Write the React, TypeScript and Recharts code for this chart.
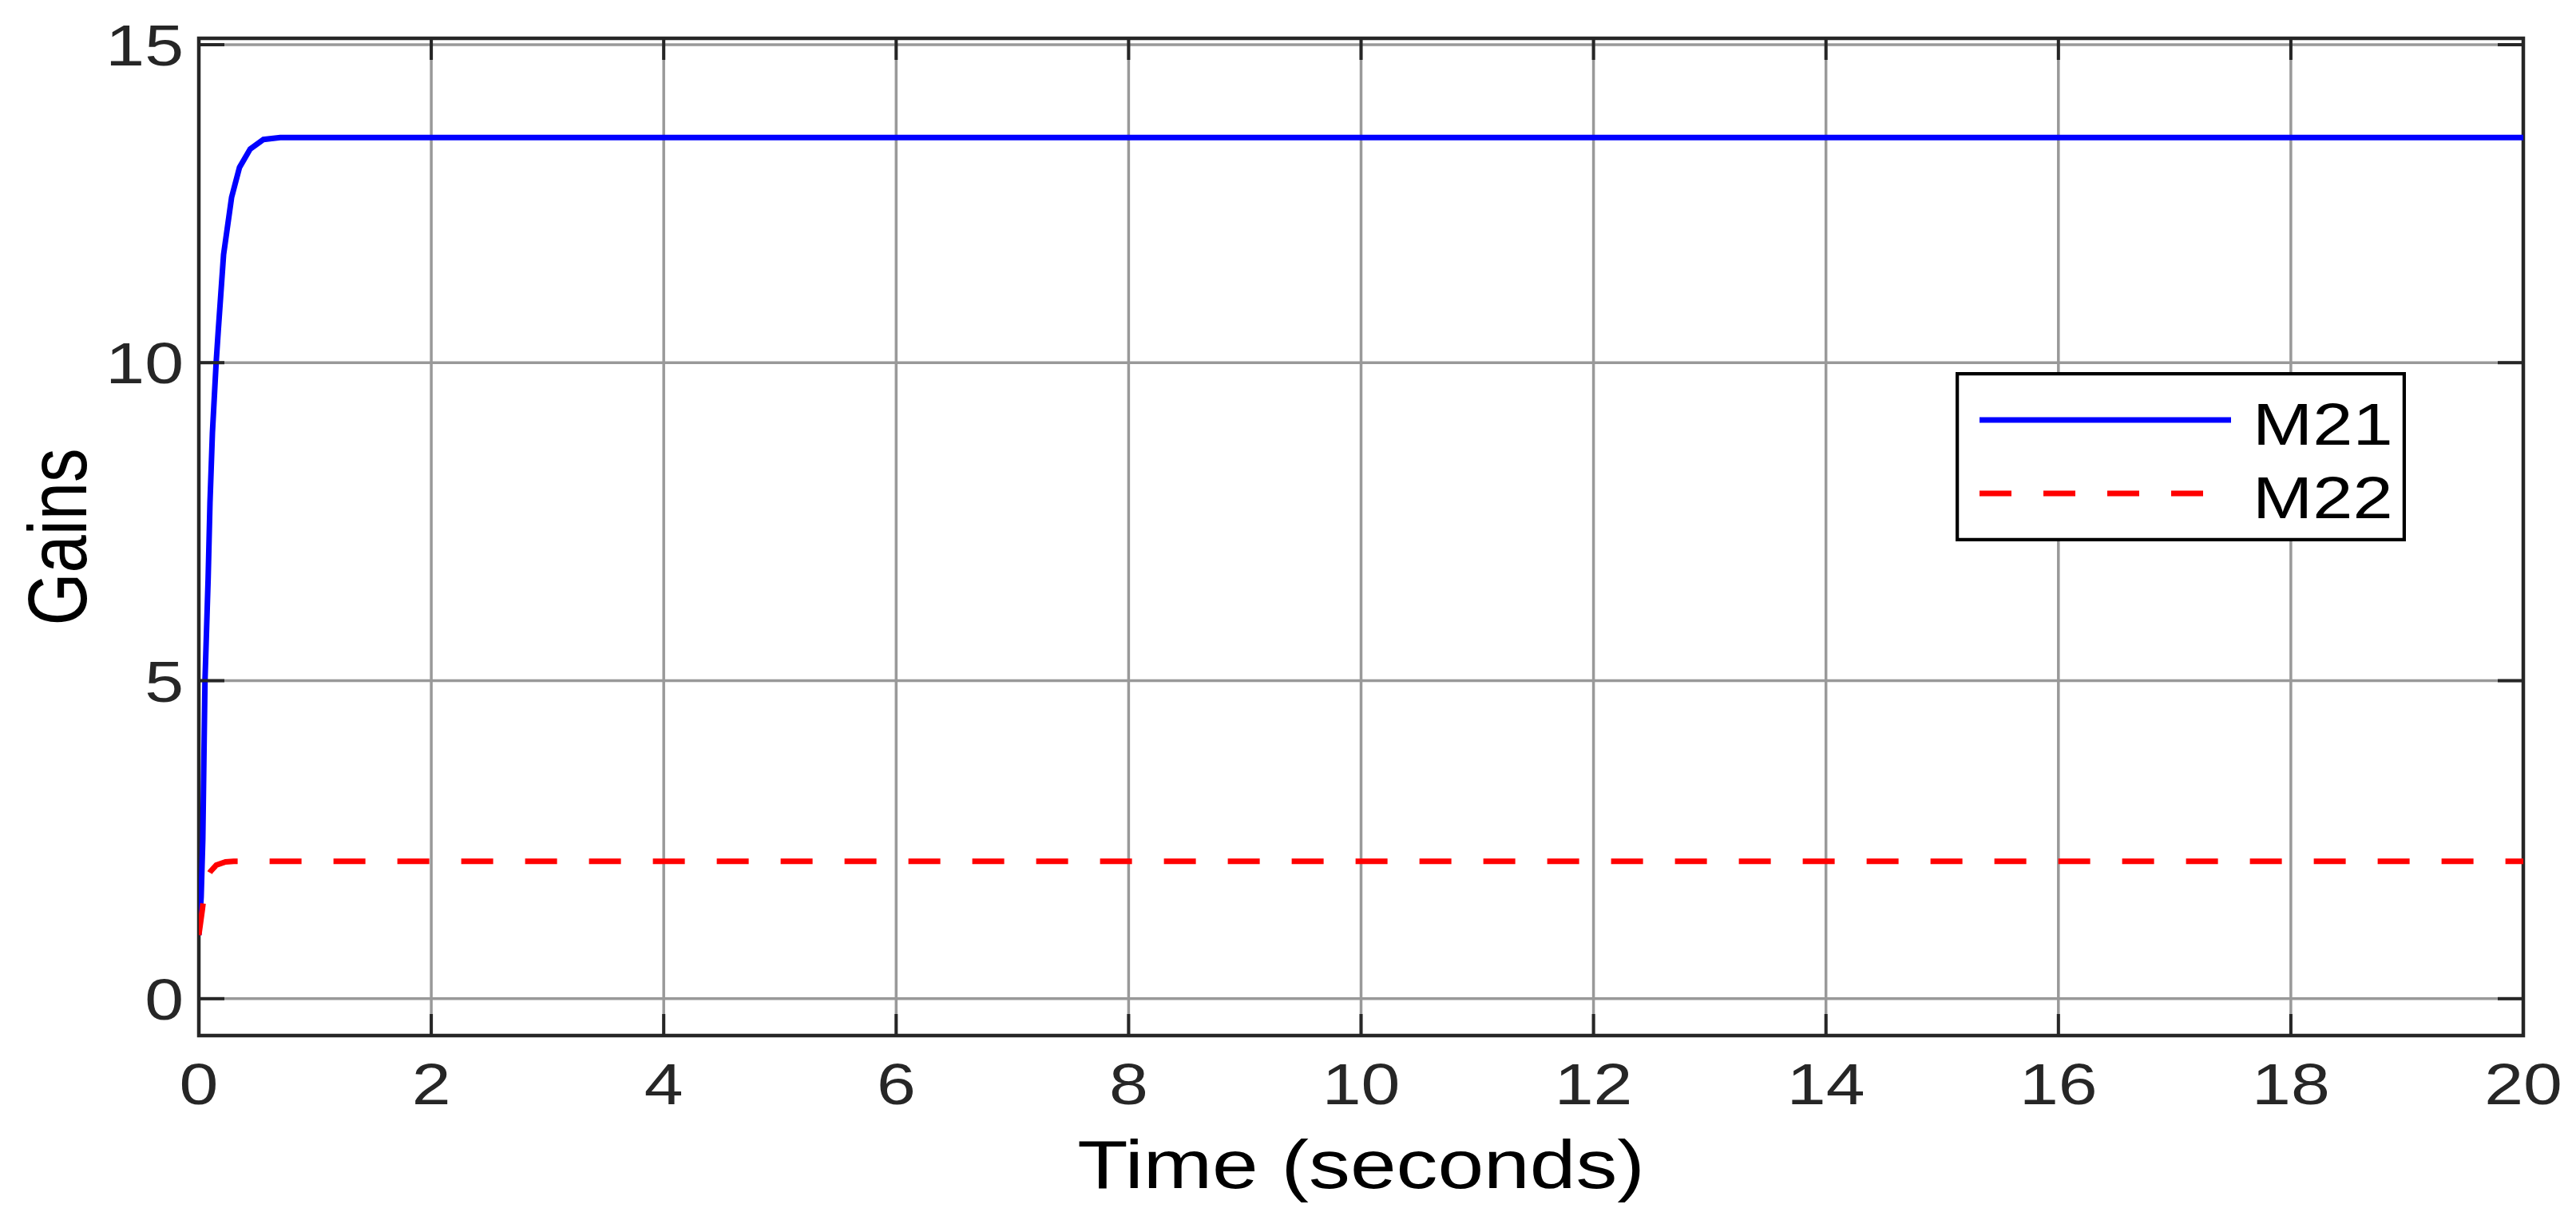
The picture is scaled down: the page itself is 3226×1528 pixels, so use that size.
import React from 'react';
import { LineChart, Line, XAxis, YAxis, CartesianGrid, ReferenceArea, Legend } from 'recharts';

// ---- data ----
const m21Time = [0, 0.02, 0.034, 0.053, 0.08, 0.096, 0.117, 0.149, 0.167, 0.213, 0.282, 0.35, 0.442, 0.556, 0.7, 1, 2, 4, 6, 8, 10, 12, 14, 16, 18, 20];
const m21Gain = [1.0, 1.6, 2.5, 5.0, 6.6, 7.8, 8.9, 10.0, 10.5, 11.7, 12.6, 13.07, 13.36, 13.51, 13.54, 13.54, 13.54, 13.54, 13.54, 13.54, 13.54, 13.54, 13.54, 13.54, 13.54, 13.54];
const m22Time = [0, 0.015, 0.03, 0.06, 0.1, 0.15, 0.23, 0.3, 1, 2, 4, 6, 8, 10, 12, 14, 16, 18, 20];
const m22Gain = [1.0, 1.2, 1.4, 1.87, 2.0, 2.1, 2.15, 2.16, 2.16, 2.16, 2.16, 2.16, 2.16, 2.16, 2.16, 2.16, 2.16, 2.16, 2.16];
const xTicks = [0, 2, 4, 6, 8, 10, 12, 14, 16, 18, 20];
const yTicks = [0, 5, 10, 15];
const xDomain = [0, 20];
const yDomain = [-0.58, 15.1];
const seriesNames = ['M21', 'M22'];
const xLabel = 'Time (seconds)';
const yLabel = 'Gains';

// ---- layout / style ----
const W = 3226;
const H = 1528;
const PLOT_L = 249;
const PLOT_R = 3160;
const PLOT_T = 48;
const PLOT_B = 1297;
const X_AXIS_H = 80;
const Y_AXIS_W = 100;
const STRETCH = 1.22;
const FONT = '"Liberation Sans", Arial, Helvetica, sans-serif';
const AXIS_COLOR = '#262626';
const GRID_COLOR = '#999999';
const TICK_LEN_X = 27;
const TICK_LEN_Y = 32;

const seriesStyle: Record<string, { color: string; dash?: string }> = {
  M21: { color: '#0000ff' },
  M22: { color: '#ff0000', dash: '40 40' },
};

const m21Data = m21Time.map((t, i) => ({ t, v: m21Gain[i] }));
const m22Data = m22Time.map((t, i) => ({ t, v: m22Gain[i] }));
const seriesData: Record<string, { t: number; v: number }[]> = { M21: m21Data, M22: m22Data };

const XTick = (props: any) => {
  const { x, payload } = props;
  return (
    <g>
      <line x1={x} y1={PLOT_B} x2={x} y2={PLOT_B - TICK_LEN_X} stroke={AXIS_COLOR} strokeWidth={4} />
      <line x1={x} y1={PLOT_T} x2={x} y2={PLOT_T + TICK_LEN_X} stroke={AXIS_COLOR} strokeWidth={4} />
      <text
        transform={`translate(${x},${PLOT_B + 86}) scale(${STRETCH},1)`}
        textAnchor="middle"
        fontSize={72}
        fontFamily={FONT}
        fill={AXIS_COLOR}
      >
        {payload.value}
      </text>
    </g>
  );
};

const YTick = (props: any) => {
  const { y, payload } = props;
  return (
    <g>
      <line x1={PLOT_L} y1={y} x2={PLOT_L + TICK_LEN_Y} y2={y} stroke={AXIS_COLOR} strokeWidth={4} />
      <line x1={PLOT_R} y1={y} x2={PLOT_R - TICK_LEN_Y} y2={y} stroke={AXIS_COLOR} strokeWidth={4} />
      <text
        transform={`translate(${PLOT_L - 19},${y + 26}) scale(${STRETCH},1)`}
        textAnchor="end"
        fontSize={72}
        fontFamily={FONT}
        fill={AXIS_COLOR}
      >
        {payload.value}
      </text>
    </g>
  );
};

const XLabelContent = () => (
  <text
    transform={`translate(${(PLOT_L + PLOT_R) / 2},${1488}) scale(${STRETCH},1)`}
    textAnchor="middle"
    fontSize={85}
    fontFamily={FONT}
    fill="#000"
  >
    {xLabel}
  </text>
);

const YLabelContent = () => (
  <text
    transform={`translate(108,${(PLOT_T + PLOT_B) / 2}) scale(${STRETCH},1) rotate(-90)`}
    textAnchor="middle"
    fontSize={85}
    fontFamily={FONT}
    fill="#000"
  >
    {yLabel}
  </text>
);

const LEG_W = 564;
const LEG_H = 212;

const LegendContent = () => (
  <svg width={LEG_W} height={LEG_H} style={{ display: 'block' }}>
    <rect x={2} y={2} width={LEG_W - 4} height={LEG_H - 4} fill="#fff" stroke="#000" strokeWidth={4.5} />
    {seriesNames.map((name, i) => {
      const st = seriesStyle[name];
      const cy = 60 + i * 92;
      return (
        <g key={name}>
          <line
            x1={30}
            x2={345}
            y1={cy}
            y2={cy}
            stroke={st.color}
            strokeWidth={7}
            strokeDasharray={st.dash}
          />
          <text
            transform={`translate(372,${cy + 31}) scale(${STRETCH},1)`}
            fontSize={74}
            fontFamily={FONT}
            fill="#000"
          >
            {name}
          </text>
        </g>
      );
    })}
  </svg>
);

export default function App() {
  return (
    <div style={{ position: 'absolute', left: 0, top: 0, width: W, height: H, background: '#fff' }}>
      <LineChart
        width={W}
        height={H}
        margin={{ top: PLOT_T, right: W - PLOT_R, bottom: H - PLOT_B - X_AXIS_H, left: PLOT_L - Y_AXIS_W }}
      >
        <CartesianGrid stroke={GRID_COLOR} strokeWidth={3.5} />
        <XAxis
          type="number"
          dataKey="t"
          domain={xDomain}
          ticks={xTicks}
          interval={0}
          height={X_AXIS_H}
          allowDataOverflow
          axisLine={false}
          tickLine={false}
          tick={<XTick />}
          label={{ content: XLabelContent }}
        />
        <YAxis
          type="number"
          domain={yDomain}
          ticks={yTicks}
          interval={0}
          width={Y_AXIS_W}
          allowDataOverflow
          axisLine={false}
          tickLine={false}
          tick={<YTick />}
          label={{ content: YLabelContent }}
        />
        <ReferenceArea
          x1={xDomain[0]}
          x2={xDomain[1]}
          y1={yDomain[0]}
          y2={yDomain[1]}
          fill="none"
          fillOpacity={0}
          stroke={AXIS_COLOR}
          strokeWidth={4.5}
          ifOverflow="visible"
        />
        {seriesNames.map((name) => (
          <Line
            key={name}
            data={seriesData[name]}
            dataKey="v"
            name={name}
            type="linear"
            stroke={seriesStyle[name].color}
            strokeWidth={7}
            strokeDasharray={seriesStyle[name].dash}
            dot={false}
            activeDot={false}
            isAnimationActive={false}
          />
        ))}
        <Legend
          layout="horizontal"
          verticalAlign="middle"
          align="center"
          content={LegendContent}
          wrapperStyle={{ left: 2449, top: 466, width: LEG_W, height: LEG_H, bottom: 'auto', right: 'auto' }}
        />
      </LineChart>
    </div>
  );
}
